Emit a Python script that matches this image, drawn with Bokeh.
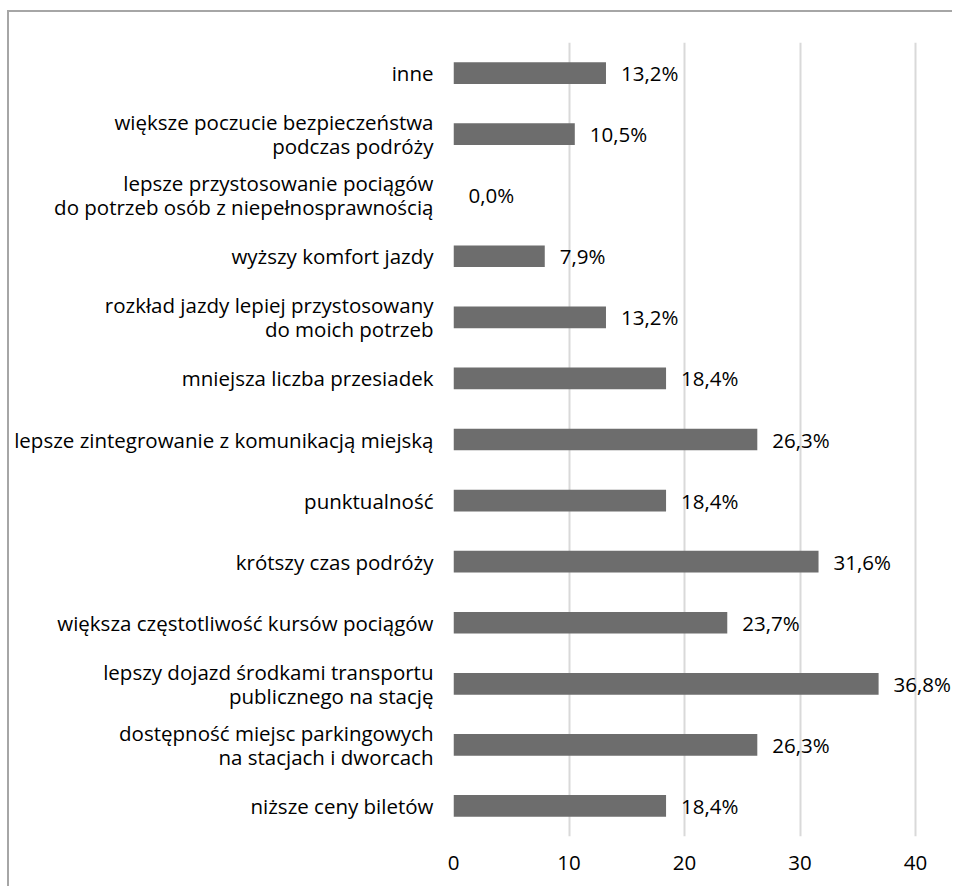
from bokeh.plotting import figure
from bokeh.models import ColumnDataSource, FixedTicker, LabelSet
from bokeh.core.properties import value
from bokeh.embed import file_html
from bokeh.resources import INLINE

# Categories listed top to bottom as shown on the chart
categories = [
    "inne",
    "większe poczucie bezpieczeństwa\npodczas podróży",
    "lepsze przystosowanie pociągów\ndo potrzeb osób z niepełnosprawnością",
    "wyższy komfort jazdy",
    "rozkład jazdy lepiej przystosowany\ndo moich potrzeb",
    "mniejsza liczba przesiadek",
    "lepsze zintegrowanie z komunikacją miejską",
    "punktualność",
    "krótszy czas podróży",
    "większa częstotliwość kursów pociągów",
    "lepszy dojazd środkami transportu\npublicznego na stację",
    "dostępność miejsc parkingowych\nna stacjach i dworcach",
    "niższe ceny biletów",
]
shares = [13.2, 10.5, 0.0, 7.9, 13.2, 18.4, 26.3, 18.4, 31.6, 23.7, 36.8, 26.3, 18.4]
x_ticks = [0, 10, 20, 30, 40]

FONT = "Open Sans"
FONT_SIZE = "20.5px"
TEXT_COLOR = "#000000"

labels = [f"{v:.1f}".replace(".", ",") + "%" for v in shares]
source = ColumnDataSource(dict(cat=categories, share=shares, label=labels))

p = figure(
    width=945, height=876,
    y_range=categories[::-1],
    x_range=(0, 43.37),
    output_backend="svg",
    toolbar_location=None,
    min_border_left=444, min_border_right=0,
    min_border_top=30, min_border_bottom=52,
    margin=(10, 0, 0, 7),
    styles={"border-left": "2px solid #a6a6a6", "border-top": "2px solid #a6a6a6"},
)
p.outline_line_color = None
p.background_fill_color = "white"
p.border_fill_color = "white"

p.hbar(y="cat", right="share", left=0, height=0.355, source=source,
       fill_color="#6d6d6d", line_color=None)

p.add_layout(LabelSet(x="share", y="cat", text="label", source=source,
                      x_offset=15, text_baseline="middle", text_align="left",
                      text_font=value(FONT), text_font_size=value(FONT_SIZE),
                      text_color=TEXT_COLOR))

# x axis: bare numbers under vertical gridlines
p.xaxis.ticker = FixedTicker(ticks=x_ticks)
p.xaxis.axis_line_color = None
p.xaxis.major_tick_line_color = None
p.xaxis.minor_tick_line_color = None
p.xaxis.major_label_standoff = 13
p.xaxis.major_label_text_font = FONT
p.xaxis.major_label_text_font_size = FONT_SIZE
p.xaxis.major_label_text_color = TEXT_COLOR

# y axis: category names, right aligned
p.yaxis.axis_line_color = None
p.yaxis.major_tick_line_color = None
p.yaxis.major_label_standoff = 14
p.yaxis.major_label_text_font = FONT
p.yaxis.major_label_text_font_size = FONT_SIZE
p.yaxis.major_label_text_color = TEXT_COLOR
p.yaxis.major_label_text_line_height = 0.86

p.xgrid.grid_line_color = "#d9d9d9"
p.xgrid.grid_line_width = 2
p.ygrid.grid_line_color = None

open("out.html", "w").write(file_html(p, INLINE))
